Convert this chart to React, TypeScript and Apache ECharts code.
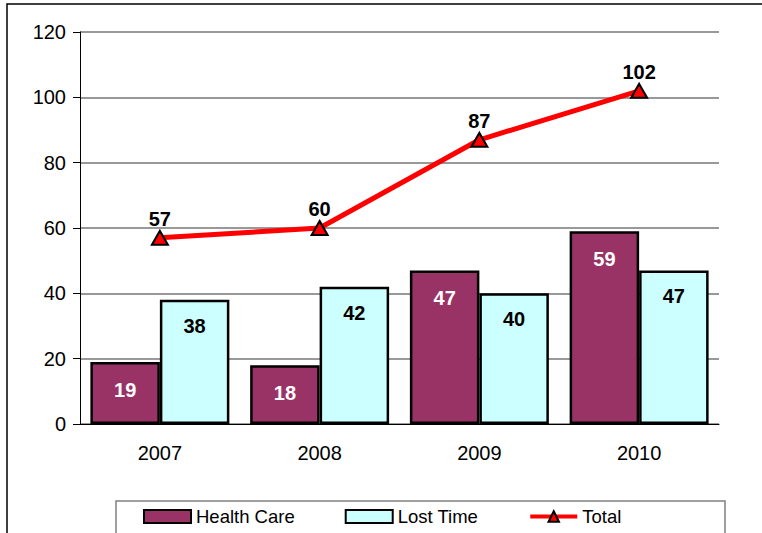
import React, { useEffect, useRef } from "react";
import * as echarts from "echarts";

const years = ["2007", "2008", "2009", "2010"];
const healthCare = [19, 18, 47, 59];
const lostTime = [38, 42, 40, 47];
const total = [57, 60, 87, 102];
const yTicks = { min: 0, max: 120, interval: 20 };

const FONT = "'Liberation Sans', Arial, sans-serif";

export default function App() {
  const ref = useRef<HTMLDivElement>(null);
  useEffect(() => {
    const chart = echarts.init(ref.current!, null, { renderer: "svg" });
    chart.setOption({
      animation: false,
      textStyle: { fontFamily: FONT },
      graphic: [
        {
          type: "rect",
          shape: { x: 7, y: 4, width: 800, height: 600 },
          style: { fill: "none", stroke: "#000", lineWidth: 1.5 },
          silent: true,
        },
        {
          type: "rect",
          shape: { x: 116, y: 501, width: 609, height: 60 },
          style: { fill: "none", stroke: "#808080", lineWidth: 1.5 },
          silent: true,
        },
      ],
      grid: { left: 80, top: 32, right: 43, bottom: 109 },
      legend: {
        left: 138,
        top: 502,
        padding: [5, 5, 5, 5],
        itemGap: 50,
        itemWidth: 47,
        itemHeight: 13,
        textStyle: { fontSize: 18.5, color: "#000", fontFamily: FONT },
        data: [
          { name: "Health Care", icon: "rect" },
          { name: "Lost Time", icon: "rect" },
          { name: "Total", lineStyle: { width: 4, color: "#FF0000" } },
        ],
      },
      xAxis: {
        type: "category",
        data: years,
        axisLine: { lineStyle: { color: "#000", width: 1 } },
        axisTick: { length: 7, lineStyle: { color: "#000" } },
        axisLabel: { fontSize: 20, color: "#000", margin: 19, fontFamily: FONT },
      },
      yAxis: {
        type: "value",
        min: yTicks.min,
        max: yTicks.max,
        interval: yTicks.interval,
        axisLine: { show: true, lineStyle: { color: "#000", width: 1 } },
        axisTick: { show: true, length: 7, lineStyle: { color: "#000" } },
        axisLabel: { fontSize: 20, color: "#000", margin: 14, fontFamily: FONT },
        splitLine: { lineStyle: { color: "#777", width: 1.5 } },
      },
      series: [
        {
          name: "Health Care",
          type: "bar",
          data: healthCare,
          barGap: "0%",
          barCategoryGap: "13%",
          itemStyle: { color: "#993366", borderColor: "#000", borderWidth: 2.5 },
          label: {
            show: true,
            position: "insideTop",
            distance: 18,
            color: "#fff",
            fontWeight: "bold",
            fontSize: 20,
            fontFamily: FONT,
          },
        },
        {
          name: "Lost Time",
          type: "bar",
          data: lostTime,
          itemStyle: { color: "#CCFFFF", borderColor: "#000", borderWidth: 2.5 },
          label: {
            show: true,
            position: "insideTop",
            distance: 16,
            color: "#000",
            fontWeight: "bold",
            fontSize: 20,
            fontFamily: FONT,
          },
        },
        {
          name: "Total",
          type: "line",
          data: total,
          symbol: "triangle",
          symbolSize: [16, 14],
          lineStyle: { color: "#FF0000", width: 5 },
          itemStyle: { color: "#FF0000", borderColor: "#000", borderWidth: 2 },
          label: {
            show: true,
            position: "top",
            distance: 1,
            color: "#000",
            fontWeight: "bold",
            fontSize: 20,
            fontFamily: FONT,
          },
        },
      ],
    });
    return () => chart.dispose();
  }, []);
  return <div ref={ref} style={{ width: 762, height: 533, position: "absolute", left: 0, top: 0 }} />;
}
